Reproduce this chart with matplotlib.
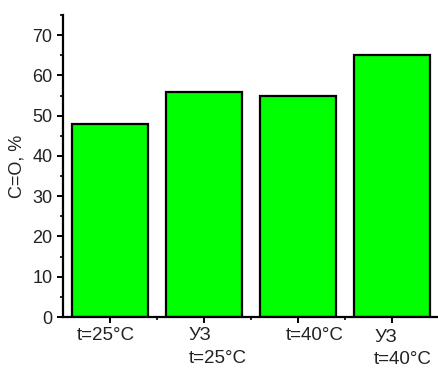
import matplotlib
matplotlib.use("Agg")
import matplotlib.pyplot as plt
from matplotlib.ticker import MultipleLocator, FixedLocator
from matplotlib.transforms import ScaledTranslation

categories = ["t=25°C", "УЗ\nt=25°C", "t=40°C", "УЗ\nt=40°C"]
values = [48, 56, 55, 65]
ylabel = "C=O, %"

plt.rcParams['font.family'] = ['Liberation Sans', 'DejaVu Sans']

fig = plt.figure(figsize=(4.38, 3.69), dpi=100)
ax = fig.add_axes([63/438, 52/369, 376/438, 302/369])

x = list(range(1, len(values) + 1))
ax.bar(x, values, width=0.81, color='#00ff00', edgecolor='black', linewidth=1.6)

ax.set_xlim(0.5, 4.5)
ax.set_ylim(0, 75)
ax.yaxis.set_major_locator(MultipleLocator(10))
ax.yaxis.set_minor_locator(MultipleLocator(5))
ax.set_xticks(x)
ax.set_xticklabels(categories, fontsize=13.5, multialignment='left')
ax.xaxis.set_minor_locator(FixedLocator([1.5, 2.5, 3.5]))

for s in ['top', 'right']:
    ax.spines[s].set_visible(False)
for s in ['left', 'bottom']:
    ax.spines[s].set_linewidth(1.6)

ax.tick_params(axis='y', which='major', labelsize=13)
ax.tick_params(axis='both', which='major', direction='out', length=4.5, width=1.4, pad=3, labelcolor='#222222')
ax.tick_params(axis='both', which='minor', direction='out', length=2.5, width=1.2)

# horizontal / vertical offsets of tick labels (points)
offsets = [(-3, 0), (10, 0), (12, 0), (8, -1)]
for lab, (dx, dy) in zip(ax.get_xticklabels(), offsets):
    lab.set_transform(lab.get_transform() + ScaledTranslation(dx/72, dy/72, fig.dpi_scale_trans))
    lab.set_linespacing(1.4)
    lab.set_verticalalignment('top')

ax.set_ylabel(ylabel, fontsize=13, labelpad=5, color='#222222')

fig.savefig("out.png", dpi=100)
